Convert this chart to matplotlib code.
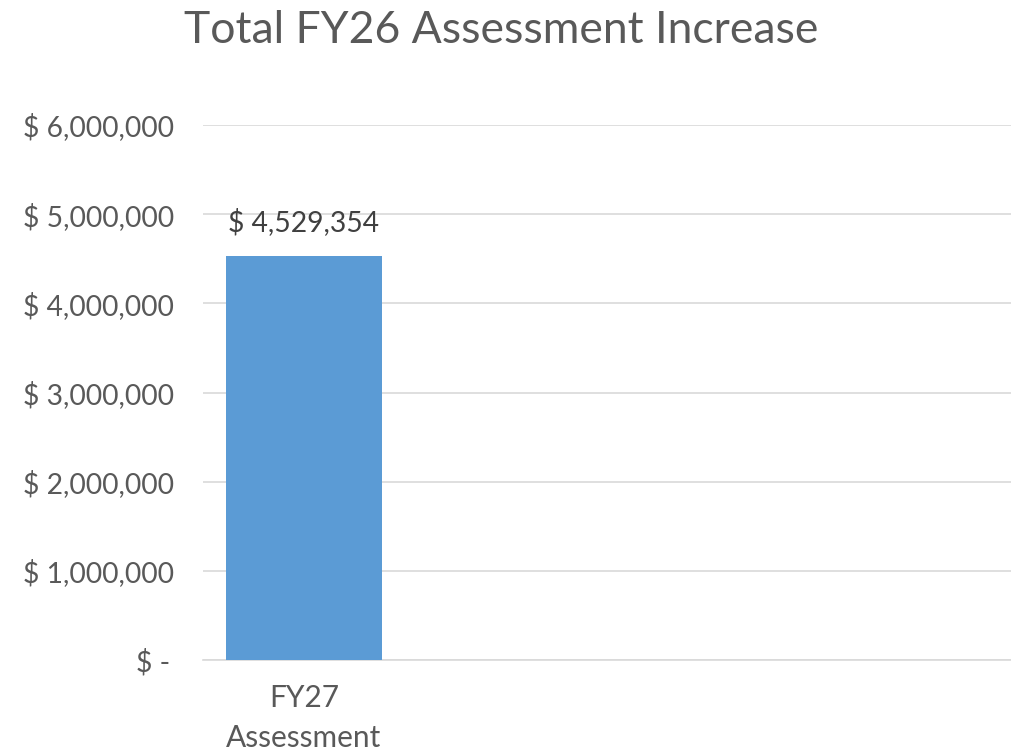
import matplotlib.pyplot as plt

# chart data
categories = ['FY27\nAssessment', '', '', '']
values = [4529354, None, None, None]
y_ticks = [0, 1000000, 2000000, 3000000, 4000000, 5000000, 6000000]
y_labels = ['$ -', '$ 1,000,000', '$ 2,000,000', '$ 3,000,000',
            '$ 4,000,000', '$ 5,000,000', '$ 6,000,000']
title = 'Total FY26 Assessment Increase'

plt.rcParams['font.family'] = ['Lato', 'DejaVu Sans']

fig = plt.figure(figsize=(10.11, 7.53), dpi=100)
ax = fig.add_axes([203 / 1011, 1 - 660 / 753, 808 / 1011, (660 - 125) / 753])

x = list(range(len(categories)))
for i, v in enumerate(values):
    if v is None:
        continue
    ax.bar(i, v, width=0.77, color='#5B9BD5', zorder=3)
    ax.text(i, v + 230000, f'$ {v:,.0f}', ha='center', va='bottom',
            fontsize=20.3, color='#404040')

ax.set_xlim(-0.5, len(categories) - 0.5)
ax.set_ylim(0, 6000000)
ax.set_xticks(x)
ax.set_xticklabels(categories, fontsize=21.5, color='#595959', linespacing=1.56)
ax.set_yticks(y_ticks)
ax.set_yticklabels(y_labels, fontsize=20.3, color='#595959')
ax.tick_params(axis='both', length=0)
ax.tick_params(axis='x', pad=17)
ax.tick_params(axis='y', pad=21)
# shift the "$ -" label a little left like the accounting format does
ax.get_yticklabels()[0].set_x(-0.004)

ax.grid(axis='y', color='#D9D9D9', linewidth=1.2, zorder=0)
for s in ['top', 'right', 'left']:
    ax.spines[s].set_visible(False)
ax.spines['bottom'].set_color('#D9D9D9')
ax.spines['bottom'].set_linewidth(1.2)

fig.text(501 / 1011, 1 - 43 / 753, title, fontsize=32, color='#595959',
         ha='center', va='baseline')

fig.savefig('out.png', dpi=100)
